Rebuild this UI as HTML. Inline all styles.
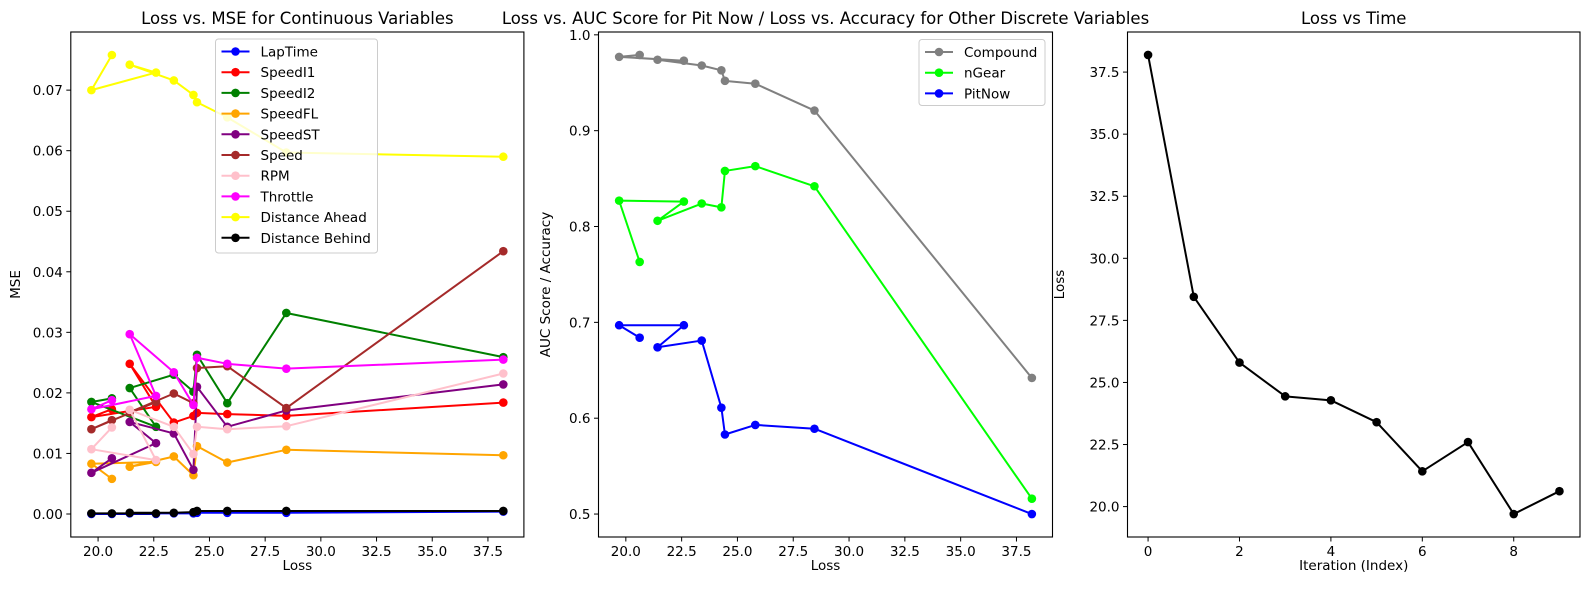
<!DOCTYPE html>
<html><head><meta charset="utf-8"><style>
html,body{margin:0;padding:0;background:#fff;}
svg{display:block;font-family:"DejaVu Sans","Liberation Sans",sans-serif;}
</style></head><body>
<svg id="chart" width="1589" height="590" viewBox="0 0 1589 590" xmlns="http://www.w3.org/2000/svg"></svg>
<script>
const losses = [38.19, 28.45, 25.8, 24.44, 24.28, 23.4, 21.42, 22.6, 19.7, 20.62];
const iterations = [0,1,2,3,4,5,6,7,8,9];
const contNames = ["LapTime","SpeedI1","SpeedI2","SpeedFL","SpeedST","Speed","RPM","Throttle","Distance Ahead","Distance Behind"];
const lapTime = [0.0004,0.0002,0.0002,0.0002,0.0001,0.0001,0.0001,0.0000,0.0000,0.0000];
const speedI1 = [0.0184,0.0162,0.0165,0.0167,0.0162,0.0151,0.0248,0.0177,0.0160,0.0173];
const speedI2 = [0.0259,0.0332,0.0183,0.0263,0.0202,0.0230,0.0208,0.0144,0.0185,0.0191];
const speedFL = [0.0097,0.0106,0.0085,0.0112,0.0064,0.0095,0.0078,0.0086,0.0083,0.0058];
const speedST = [0.0214,0.0171,0.0144,0.0210,0.0073,0.0133,0.0152,0.0117,0.0068,0.0092];
const speedAll = [0.0434,0.0175,0.0244,0.0241,0.0183,0.0199,0.0168,0.0185,0.0140,0.0155];
const rpm = [0.0232,0.0145,0.0140,0.0144,0.0099,0.0144,0.0172,0.0089,0.0107,0.0143];
const throttle = [0.0255,0.0240,0.0248,0.0258,0.0180,0.0234,0.0297,0.0195,0.0173,0.0188];
const distAhead = [0.0590,0.0597,0.0655,0.0680,0.0692,0.0716,0.0742,0.0729,0.0700,0.0758];
const distBehind = [0.0005,0.0005,0.0005,0.0005,0.0003,0.0002,0.0002,0.0001,0.0001,0.0001];
const discNames = ["Compound","nGear","PitNow"];
const compound = [0.642,0.921,0.949,0.952,0.963,0.968,0.974,0.973,0.977,0.979];
const nGear = [0.516,0.842,0.863,0.858,0.820,0.824,0.806,0.826,0.827,0.763];
const pitNow = [0.500,0.589,0.593,0.583,0.611,0.681,0.674,0.697,0.697,0.684];
const lossTicks = [20.0,22.5,25.0,27.5,30.0,32.5,35.0,37.5];
const mseTicks = [0.00,0.01,0.02,0.03,0.04,0.05,0.06,0.07];
const aucTicks = [0.5,0.6,0.7,0.8,0.9,1.0];
const iterTicks = [0,2,4,6,8];
const timeTicks = [20.0,22.5,25.0,27.5,30.0,32.5,35.0,37.5];

const NS="http://www.w3.org/2000/svg";
const svg=document.getElementById('chart');
function mk(tag,attrs,parent){const e=document.createElementNS(NS,tag);for(const k in attrs)e.setAttribute(k,attrs[k]);(parent||svg).appendChild(e);return e;}
function lin(d0,d1,r0,r1){return v=>r0+(v-d0)*(r1-r0)/(d1-d0);}
function pad(arr){const mn=Math.min(...arr),mx=Math.max(...arr),m=(mx-mn)*0.05;return [mn-m,mx+m];}

function panel(cfg){
  const g=mk('g',{});
  
  
  const {L,R,T,B}=cfg;
  const xs=lin(cfg.xd[0],cfg.xd[1],L,R), ys=lin(cfg.yd[0],cfg.yd[1],B,T);
  // series
  cfg.series.forEach(s=>{
    const sg=mk('g',{},g);
    
    
    const pts=cfg.x.map((xv,i)=>xs(xv).toFixed(2)+','+ys(s.v[i]).toFixed(2)).join(' ');
    const pl=mk('polyline',{points:pts,fill:'none',stroke:s.c,'stroke-width':2,'stroke-linejoin':'round'},sg);
    
    
    cfg.x.forEach((xv,i)=>{
      const c=mk('circle',{cx:xs(xv),cy:ys(s.v[i]),r:4.3,fill:s.c},sg);
      
      
    });
  });
  // frame
  const fr=mk('rect',{x:L,y:T,width:R-L,height:B-T,fill:'none',stroke:'#000','stroke-width':1.1},g);
  
  
  cfg.xt.forEach(t=>{
    const x=xs(t);
    mk('line',{x1:x,x2:x,y1:B,y2:B+4.5,stroke:'#000','stroke-width':1},g);
    const tx=mk('text',{x:x,y:B+19,'font-size':13.5,'text-anchor':'middle',fill:'#000'},g);
    tx.textContent=cfg.xf(t);
    
    
  });
  cfg.yt.forEach(t=>{
    const y=ys(t);
    mk('line',{x1:L-4.5,x2:L,y1:y,y2:y,stroke:'#000','stroke-width':1},g);
    const tx=mk('text',{x:L-8,y:y+5,'font-size':13.5,'text-anchor':'end',fill:'#000'},g);
    tx.textContent=cfg.yf(t);
    
    
  });
  const ti=mk('text',{x:(L+R)/2,y:24,'font-size':16.5,'text-anchor':'middle',fill:'#000'},g);
  ti.textContent=cfg.title;
  
  
  const xl=mk('text',{x:(L+R)/2,y:570,'font-size':13.5,'text-anchor':'middle',fill:'#000'},g);
  xl.textContent=cfg.xlabel;
  
  
  const yx=cfg.ylx;
  const yl=mk('text',{x:yx,y:(T+B)/2,'font-size':13.5,'text-anchor':'middle',fill:'#000',transform:`rotate(-90 ${yx} ${(T+B)/2})`},g);
  yl.textContent=cfg.ylabel;
  
  
  if(cfg.legend){
    const lg=cfg.legend;
    const lgG=mk('g',{},g);
    
    
    mk('rect',{x:lg.x,y:lg.y,width:lg.w,height:lg.h,rx:3,fill:'#fff','fill-opacity':0.8,stroke:'#cccccc','stroke-width':1},lgG);
    cfg.series.forEach((s,i)=>{
      const y=lg.y+12.5+i*20.7;
      const eg=mk('g',{},lgG);
      
      
      mk('line',{x1:lg.x+6,x2:lg.x+34,y1:y,y2:y,stroke:s.c,'stroke-width':2},eg);
      mk('circle',{cx:lg.x+20,cy:y,r:4.3,fill:s.c},eg);
      const t=mk('text',{x:lg.x+45,y:y+5,'font-size':13.5,fill:'#000'},eg);
      t.textContent=s.label;
    });
  }
}

const colsCont=['#0000ff','#ff0000','#008000','#ffa500','#800080','#a52a2a','#ffc0cb','#ff00ff','#ffff00','#000000'];
const contVals=[lapTime,speedI1,speedI2,speedFL,speedST,speedAll,rpm,throttle,distAhead,distBehind];
const lx=pad(losses);
panel({name:'mse-panel',L:70.8,R:523.9,T:32,B:537,x:losses,xd:lx,yd:pad(contVals.flat().concat([0])).map((v,i)=>i===0?-0.0038:0.0796),
  series:contNames.map((n,i)=>({key:n.toLowerCase().replace(/ /g,'-'),label:n,c:colsCont[i],v:contVals[i]})),
  xt:lossTicks,yt:mseTicks,xf:t=>t.toFixed(1),yf:t=>t.toFixed(2),
  title:'Loss vs. MSE for Continuous Variables',xlabel:'Loss',ylabel:'MSE',ylx:20,
  legend:{x:215.5,y:39,w:162,h:214}});
panel({name:'auc-panel',L:598.5,R:1052.5,T:32,B:537,x:losses,xd:lx,yd:pad(compound.concat(nGear,pitNow)),
  series:[{key:'compound',label:'Compound',c:'#808080',v:compound},{key:'ngear',label:'nGear',c:'#00ff00',v:nGear},{key:'pitnow',label:'PitNow',c:'#0000ff',v:pitNow}],
  xt:lossTicks,yt:aucTicks,xf:t=>t.toFixed(1),yf:t=>t.toFixed(1),
  title:'Loss vs. AUC Score for Pit Now / Loss vs. Accuracy for Other Discrete Variables',xlabel:'Loss',ylabel:'AUC Score / Accuracy',ylx:550,
  legend:{x:919,y:39.5,w:126,h:66}});
panel({name:'time-panel',L:1127.5,R:1580,T:32,B:537,x:iterations,xd:pad(iterations),yd:lx,
  series:[{key:'loss',label:'Loss',c:'#000000',v:losses}],
  xt:iterTicks,yt:timeTicks,xf:t=>String(t),yf:t=>t.toFixed(1),
  title:'Loss vs Time',xlabel:'Iteration (Index)',ylabel:'Loss',ylx:1064});
</script>
</body></html>
